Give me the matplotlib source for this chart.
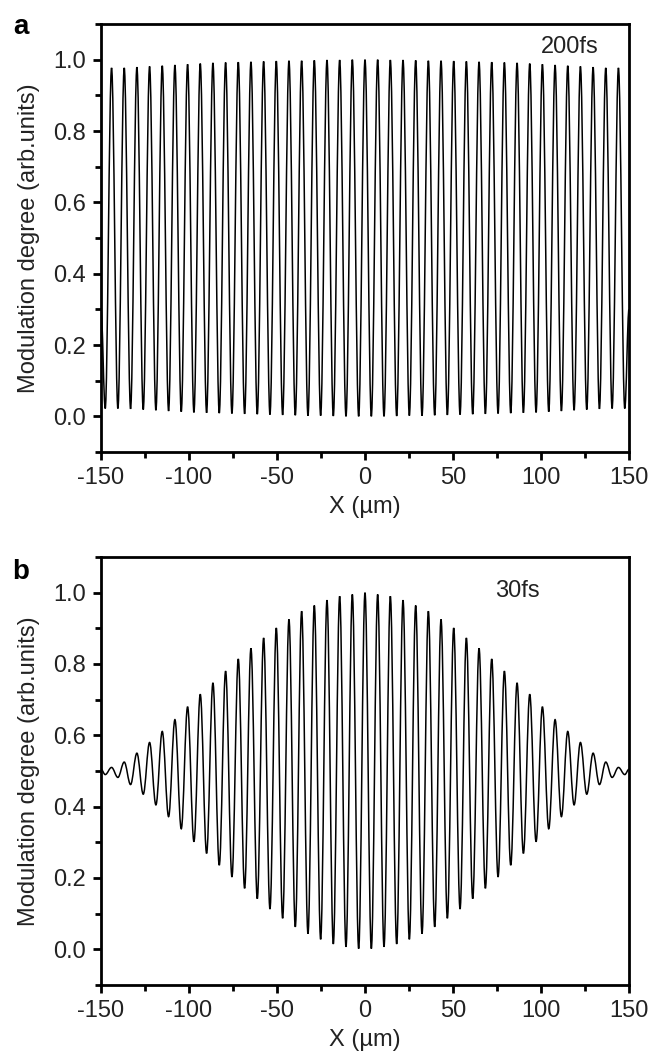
import matplotlib
matplotlib.use("Agg")
import matplotlib.pyplot as plt
from matplotlib.ticker import MultipleLocator, FormatStrFormatter
from matplotlib.path import Path
from matplotlib.patches import PathPatch
import numpy as np

plt.rcParams['font.family'] = ['Liberation Sans', 'DejaVu Sans']
plt.rcParams['axes.unicode_minus'] = False

# Fringe extrema (x in µm)
peak_x = [-144.0, -136.8, -129.6, -122.4, -115.2, -108.0, -100.8, -93.6, -86.4, -79.2,
          -72.0, -64.8, -57.6, -50.4, -43.2, -36.0, -28.8, -21.6, -14.4, -7.2, 0.0,
          7.2, 14.4, 21.6, 28.8, 36.0, 43.2, 50.4, 57.6, 64.8, 72.0, 79.2, 86.4, 93.6,
          100.8, 108.0, 115.2, 122.4, 129.6, 136.8, 144.0]
trough_x = [-147.6, -140.4, -133.2, -126.0, -118.8, -111.6, -104.4, -97.2, -90.0, -82.8,
            -75.6, -68.4, -61.2, -54.0, -46.8, -39.6, -32.4, -25.2, -18.0, -10.8, -3.6,
            3.6, 10.8, 18.0, 25.2, 32.4, 39.6, 46.8, 54.0, 61.2, 68.4, 75.6, 82.8, 90.0,
            97.2, 104.4, 111.6, 118.8, 126.0, 133.2, 140.4, 147.6]
edge_x = [-150.0, 150.0]

# Panel a (200 fs)
peaks_a = [0.977, 0.977, 0.979, 0.981, 0.983, 0.985, 0.987, 0.989, 0.991, 0.992,
           0.993, 0.994, 0.995, 0.996, 0.997, 0.997, 0.998, 0.999, 0.999, 1.000, 1.000,
           1.000, 0.999, 0.999, 0.998, 0.997, 0.997, 0.996, 0.995, 0.994, 0.993,
           0.992, 0.991, 0.989, 0.987, 0.985, 0.983, 0.981, 0.979, 0.977, 0.977]
troughs_a = [0.022, 0.022, 0.021, 0.019, 0.017, 0.015, 0.013, 0.011, 0.010, 0.009,
             0.008, 0.007, 0.006, 0.005, 0.004, 0.003, 0.002, 0.002, 0.001, 0.000, 0.000,
             0.000, 0.000, 0.001, 0.002, 0.002, 0.003, 0.004, 0.005, 0.006, 0.007,
             0.008, 0.009, 0.010, 0.011, 0.013, 0.015, 0.017, 0.019, 0.021, 0.022, 0.022]
edges_a = [0.30, 0.30]

# Panel b (30 fs)
peaks_b = [0.510, 0.525, 0.550, 0.580, 0.611, 0.644, 0.680, 0.715, 0.747, 0.780,
           0.814, 0.844, 0.873, 0.901, 0.925, 0.948, 0.964, 0.979, 0.990, 0.995, 1.000,
           0.995, 0.990, 0.979, 0.964, 0.948, 0.925, 0.901, 0.873, 0.844, 0.814,
           0.780, 0.747, 0.715, 0.680, 0.644, 0.611, 0.580, 0.550, 0.525, 0.510]
troughs_b = [0.490, 0.482, 0.462, 0.435, 0.405, 0.372, 0.338, 0.302, 0.269, 0.236,
             0.203, 0.171, 0.142, 0.113, 0.087, 0.063, 0.044, 0.028, 0.015, 0.007, 0.002,
             0.002, 0.007, 0.015, 0.028, 0.044, 0.063, 0.087, 0.113, 0.142, 0.171,
             0.203, 0.236, 0.269, 0.302, 0.338, 0.372, 0.405, 0.435, 0.462, 0.482, 0.490]
edges_b = [0.505, 0.505]

x_ticks = [-150, -100, -50, 0, 50, 100, 150]
y_ticks = [0.0, 0.2, 0.4, 0.6, 0.8, 1.0]


def series(peaks, troughs, edges):
    xs = np.array(peak_x + trough_x + edge_x)
    ys = np.array(peaks + troughs + edges)
    order = np.argsort(xs)
    return xs[order], ys[order]


def smooth_path(xs, ys):
    # cubic Bezier segments with flat tangents at each extremum (sine-like fringes)
    verts = [(xs[0], ys[0])]
    codes = [Path.MOVETO]
    k = 1 - 2 / np.pi
    for i in range(len(xs) - 1):
        d = (xs[i + 1] - xs[i]) * k
        verts += [(xs[i] + d, ys[i]), (xs[i + 1] - d, ys[i + 1]), (xs[i + 1], ys[i + 1])]
        codes += [Path.CURVE4, Path.CURVE4, Path.CURVE4]
    return Path(verts, codes)


W, H = 649, 1060
fig = plt.figure(figsize=(W / 100, H / 100), dpi=100)

panels = [
    ([101 / W, 1 - 452 / H, 528 / W, 428 / H], peaks_a, troughs_a, edges_a, '200fs', 'a', (570 / W, 1 - 47 / H), (13 / W, 1 - 14 / H)),
    ([101 / W, 1 - 985 / H, 528 / W, 428 / H], peaks_b, troughs_b, edges_b, '30fs', 'b', (517 / W, 1 - 591 / H), (12 / W, 1 - 559 / H)),
]

for rect, pk, tr, ed, lab, letter, labpos, letpos in panels:
    ax = fig.add_axes(rect)
    xs, ys = series(pk, tr, ed)
    ax.add_patch(PathPatch(smooth_path(xs, ys), facecolor='none', edgecolor='#000000', lw=1.1))
    ax.set_xlim(-150, 150)
    ax.set_ylim(-0.1, 1.1)
    ax.set_xticks(x_ticks)
    ax.set_yticks(y_ticks)
    ax.xaxis.set_minor_locator(MultipleLocator(25))
    ax.yaxis.set_minor_locator(MultipleLocator(0.1))
    ax.yaxis.set_major_formatter(FormatStrFormatter('%.1f'))
    ax.tick_params(which='major', direction='out', length=6, width=2, labelsize=17, pad=5,
                   colors='black', labelcolor='#222222')
    ax.tick_params(which='minor', direction='out', length=4, width=2)
    for s in ax.spines.values():
        s.set_linewidth(2)
    ax.set_xlabel('X (µm)', fontsize=17, color='#222222')
    ax.xaxis.set_label_coords(0.5, -0.128)
    ax.set_ylabel('Modulation degree (arb.units)', fontsize=17, color='#222222')
    ax.yaxis.set_label_coords(-0.136, 0.5)
    ax.xaxis.label.set_va('center')
    ax.yaxis.label.set_va('center')
    fig.text(labpos[0], labpos[1], lab, ha='center', va='center', fontsize=17, color='#222222')
    fig.text(letpos[0], letpos[1], letter, ha='left', va='top', fontsize=20, fontweight='bold')

fig.savefig('out.png', dpi=100)
